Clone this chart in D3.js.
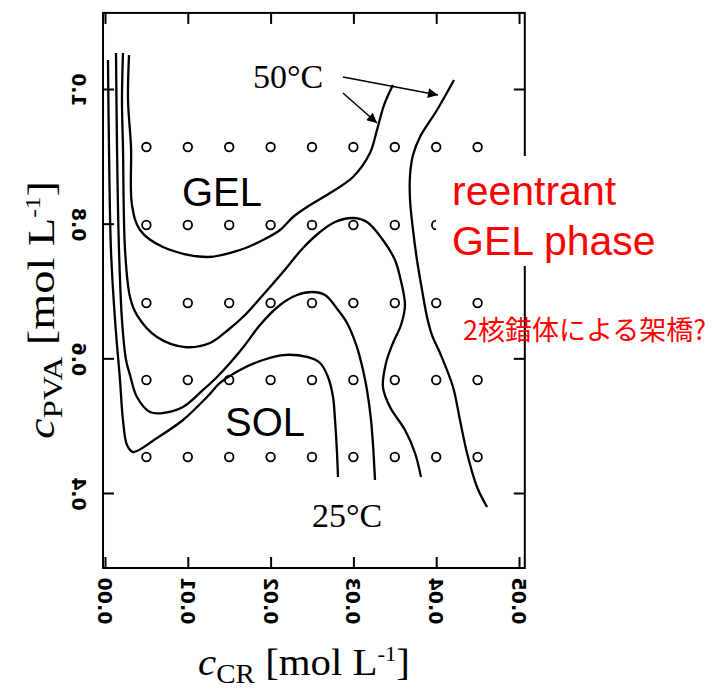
<!DOCTYPE html>
<html>
<head>
<meta charset="utf-8">
<script src="https://cdn.jsdelivr.net/npm/d3@7"></script>
<style>
  body { margin: 0; background: #fff; }
</style>
</head>
<body>
<div id="chart"></div>
<script>
const width = 714;
const height = 690;

// sample grid (open circles)
const cr_samples = [0.005, 0.010, 0.015, 0.020, 0.025, 0.030, 0.035, 0.040, 0.045];
const pva_samples = [0.9138, 0.798, 0.6822, 0.5678, 0.4535];

// axes
const x_ticks = [0, 0.01, 0.02, 0.03, 0.04, 0.05];
const x_tick_labels = ['0.00', '0.01', '0.02', '0.03', '0.04', '0.05'];
const y_ticks = [0.4, 0.6, 0.8, 1.0];
const y_tick_labels = ['0.4', '0.6', '0.8', '1.0'];
const x_lim = [-0.00024, 0.0507];
const y_lim = [0.2886, 1.113];

// gelation boundaries [c_CR, c_PVA]
const curve_a = [[0.0029,1.0504],[0.00278,0.9836],[0.00314,0.9138],[0.00326,0.8277],[0.00423,0.7906],[0.007,0.7653],
  [0.01232,0.7505],[0.0163,0.7609],[0.01908,0.7757],[0.02114,0.7906],[0.02271,0.8099],[0.0244,0.8247],[0.02717,0.8455],
  [0.02995,0.8693],[0.032,0.9049],[0.03285,0.9391],[0.0337,0.9762],[0.03478,1.0059]];
const curve_b = [[0.00217,1.0534],[0.00205,0.9836],[0.00217,0.9138],[0.00242,0.7609],[0.00302,0.6911],[0.00386,0.6643],
  [0.00628,0.6317],[0.00966,0.6168],[0.01268,0.6228],[0.01486,0.6421],[0.01691,0.6643],[0.01908,0.694],[0.0215,0.7282],
  [0.02391,0.7638],[0.02597,0.7876],[0.02778,0.8025],[0.02995,0.8084],[0.03164,0.8025],[0.03357,0.7757],[0.03502,0.746],
  [0.03563,0.7208],[0.03623,0.6792],[0.03575,0.6495],[0.03478,0.6228],[0.03394,0.5931],[0.03357,0.5574],[0.03442,0.5277],
  [0.03623,0.4936],[0.03744,0.4594],[0.03816,0.4238]];
const curve_c = [[0.00133,1.0534],[0.00145,0.9138],[0.00169,0.7609],[0.00205,0.6569],[0.00254,0.5975],[0.00302,0.5752],
  [0.00386,0.5426],[0.00543,0.5203],[0.007,0.5188],[0.00942,0.5277],[0.01184,0.553],[0.01353,0.5723],[0.0151,0.5931],
  [0.01691,0.6198],[0.01872,0.6495],[0.02114,0.6792],[0.02319,0.694],[0.025,0.6985],[0.02657,0.694],[0.02814,0.6718],
  [0.02923,0.6525],[0.03043,0.6168],[0.03116,0.5827],[0.03164,0.553],[0.03213,0.5084],[0.03237,0.4713],[0.03261,0.4193]];
const curve_d = [[0.00036,1.043],[0.00048,0.9138],[0.00072,0.7609],[0.00121,0.6569],[0.00181,0.5678],[0.00217,0.5084],
  [0.00266,0.4713],[0.00338,0.4609],[0.00628,0.4817],[0.00942,0.5084],[0.01232,0.5426],[0.01389,0.5634],[0.0163,0.5827],
  [0.01908,0.5975],[0.0215,0.6049],[0.0244,0.602],[0.02597,0.5931],[0.02693,0.5723],[0.02754,0.5426],[0.02778,0.5084],
  [0.02802,0.4594],[0.02814,0.4238]];
const curve_e = [[0.04215,1.0133],[0.0401,0.9688],[0.03804,0.9287],[0.0372,0.9019],[0.03684,0.8722],[0.03684,0.8351],
  [0.0372,0.7906],[0.03768,0.746],[0.03829,0.7015],[0.03889,0.6614],[0.03949,0.6346],[0.04046,0.6079],[0.04203,0.5574],
  [0.04287,0.5084],[0.04372,0.4594],[0.04493,0.4089],[0.04614,0.3792]];
const curves = [curve_a, curve_b, curve_c, curve_d, curve_e];

// annotations
const arrows = [
  { from: [0.02874, 0.994], to: [0.03285, 0.9495] },
  { from: [0.02874, 1.0178], to: [0.04022, 0.9911] }
];
const labels = [
  { text: 'GEL', cr: 0.0093, pva: 0.8262, font: 'Liberation Sans, Arial, sans-serif', size: 40 },
  { text: 'SOL', cr: 0.01449, pva: 0.4846, font: 'Liberation Sans, Arial, sans-serif', size: 40 },
  { text: '50°C', cr: 0.01787, pva: 1.0014, font: 'Liberation Serif, Times New Roman, serif', size: 34 },
  { text: '25°C', cr: 0.025, pva: 0.3495, font: 'Liberation Serif, Times New Roman, serif', size: 34 }
];
const note_lines = ['reentrant', 'GEL phase'];
const note_jp = '2核錯体による架橋?';

const x = d3.scaleLinear().domain([0, 0.05]).range([105, 519]);
const y = d3.scaleLinear().domain([0.4, 1.0]).range([493, 89]);

const svg = d3.select('#chart')
  .append('svg')
    .attr('width', width)
    .attr('height', height);

// sample points
const grid = d3.cross(cr_samples, pva_samples);
svg.selectAll('.sample')
    .data(grid)
  .join('circle')
    .attr('class', 'sample')
    .attr('cx', d => x(d[0]))
    .attr('cy', d => y(d[1]))
    .attr('r', 4.3)
    .attr('fill', 'none')
    .attr('stroke', '#000')
    .attr('stroke-width', 1.8);

// boundaries
const line = d3.line()
  .x(d => x(d[0]))
  .y(d => y(d[1]))
  .curve(d3.curveCatmullRom.alpha(0.5));
svg.selectAll('.boundary')
    .data(curves)
  .join('path')
    .attr('class', 'boundary')
    .attr('d', line)
    .attr('fill', 'none')
    .attr('stroke', '#000')
    .attr('stroke-width', 2.3)
    .attr('stroke-linejoin', 'round');

// frame + inward ticks
svg.append('rect')
  .attr('x', x(x_lim[0]))
  .attr('y', y(y_lim[1]))
  .attr('width', x(x_lim[1]) - x(x_lim[0]))
  .attr('height', y(y_lim[0]) - y(y_lim[1]))
  .attr('fill', 'none')
  .attr('stroke', '#000')
  .attr('stroke-width', 2);

const axes = [
  { axis: d3.axisBottom(x).tickValues(x_ticks), t: `translate(0,${y(y_lim[0])})` },
  { axis: d3.axisTop(x).tickValues(x_ticks), t: `translate(0,${y(y_lim[1])})` },
  { axis: d3.axisLeft(y).tickValues(y_ticks), t: `translate(${x(x_lim[0])},0)` },
  { axis: d3.axisRight(y).tickValues(y_ticks), t: `translate(${x(x_lim[1])},0)` }
];
axes.forEach(a => {
  const g = svg.append('g')
    .attr('transform', a.t)
    .call(a.axis.tickSizeInner(-11).tickSizeOuter(0).tickFormat(''));
  g.select('.domain').remove();
  g.selectAll('.tick line').attr('stroke-width', 2);
});

// tick labels (transposed glyphs as in the scanned figure)
const tick_font = 'DejaVu Sans, sans-serif';
svg.selectAll('.x-label')
    .data(x_ticks)
  .join('text')
    .attr('class', 'x-label')
    .attr('transform', d => `translate(${x(d) - 7},601) matrix(0,-1,-1,0,0,0)`)
    .attr('text-anchor', 'middle')
    .style('font-family', tick_font)
    .style('font-size', '19px')
    .style('font-weight', 'bold')
    .text((d, i) => x_tick_labels[i]);
svg.selectAll('.y-label')
    .data(y_ticks)
  .join('text')
    .attr('class', 'y-label')
    .attr('transform', d => `translate(72,${y(d) + 1}) matrix(0,-1,-1,0,0,0)`)
    .attr('text-anchor', 'middle')
    .style('font-family', tick_font)
    .style('font-size', '19px')
    .style('font-weight', 'bold')
    .text((d, i) => y_tick_labels[i]);

// axis titles
const serif = 'Liberation Serif, Times New Roman, serif';
let title = (g, sub, len) => {
  g.attr('text-anchor', 'middle')
    .style('font-family', serif)
    .style('font-size', '38px')
    .attr('textLength', len)
    .attr('lengthAdjust', 'spacingAndGlyphs');
  g.append('tspan').style('font-style', 'italic').text('c');
  g.append('tspan').attr('dy', 8).style('font-size', '27px').text(sub);
  g.append('tspan').attr('dy', -8).text(' [mol L');
  g.append('tspan').attr('dy', -14).style('font-size', '21px').text('-1');
  g.append('tspan').attr('dy', 14).text(']');
};
svg.append('text')
  .attr('transform', 'translate(304,675)')
  .call(title, 'CR', 212);
svg.append('text')
  .attr('transform', 'translate(54,310) rotate(-90)')
  .call(title, 'PVA', 258);

// arrows
svg.append('defs').append('marker')
    .attr('id', 'head')
    .attr('viewBox', '0 0 10 10')
    .attr('refX', 10)
    .attr('refY', 5)
    .attr('markerWidth', 16)
    .attr('markerHeight', 10)
    .attr('markerUnits', 'userSpaceOnUse')
    .attr('orient', 'auto')
  .append('path')
    .attr('d', 'M0,0L10,5L0,10z')
    .attr('fill', '#000');
svg.selectAll('.arrow')
    .data(arrows)
  .join('line')
    .attr('class', 'arrow')
    .attr('x1', d => x(d.from[0]))
    .attr('y1', d => y(d.from[1]))
    .attr('x2', d => x(d.to[0]))
    .attr('y2', d => y(d.to[1]))
    .attr('stroke', '#000')
    .attr('stroke-width', 1.5)
    .attr('marker-end', 'url(#head)');

// in-plot labels
svg.selectAll('.label')
    .data(labels)
  .join('text')
    .attr('class', 'label')
    .attr('x', d => x(d.cr))
    .attr('y', d => y(d.pva))
    .style('font-family', d => d.font)
    .style('font-size', d => d.size + 'px')
    .text(d => d.text);

// red note, white box behind like the pasted overlay
const note = svg.append('g');
const cover = note.append('rect').attr('fill', '#fff');
note.selectAll('.note')
    .data(note_lines)
  .join('text')
    .attr('class', 'note')
    .attr('x', 452)
    .attr('y', (d, i) => 205 + i * 50)
    .attr('fill', '#ff0000')
    .style('font-family', 'Liberation Sans, Arial, sans-serif')
    .style('font-size', '41px')
    .text(d => d);
const bb = note.node().getBBox();
cover.attr('x', bb.x - 16).attr('y', bb.y - 12)
  .attr('width', bb.width + 24).attr('height', bb.height + 14);

svg.append('text')
  .attr('x', 463)
  .attr('y', 340)
  .attr('fill', '#ff0000')
  .style('font-family', 'Noto Sans CJK JP, sans-serif')
  .style('font-size', '27px')
  .text(note_jp);
</script>
</body>
</html>
